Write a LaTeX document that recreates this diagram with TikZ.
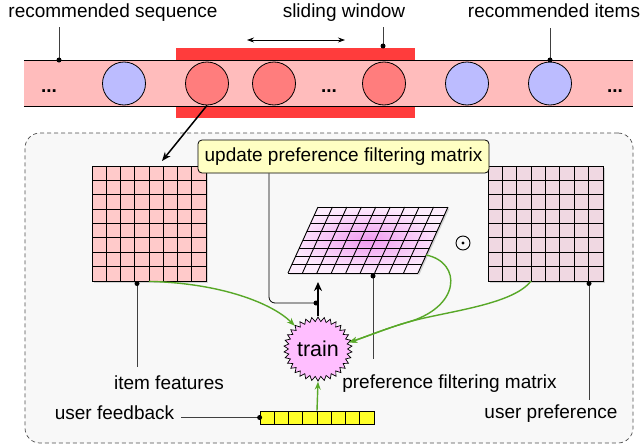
\documentclass[tikz,border=0pt]{standalone}
\usepackage{fontspec}
\setmainfont{Liberation Sans}
\usetikzlibrary{shapes.symbols,arrows.meta,shadows}
\definecolor{bandpink}{RGB}{255,188,188}
\definecolor{winred}{RGB}{255,60,60}
\definecolor{itred}{RGB}{255,125,125}
\definecolor{itblue}{RGB}{188,188,255}
\definecolor{impink}{RGB}{255,202,202}
\definecolor{upmauve}{RGB}{240,216,226}
\definecolor{updyellow}{RGB}{255,255,195}
\definecolor{trainpink}{RGB}{255,190,255}
\definecolor{fbyellow}{RGB}{255,255,40}
\definecolor{arrgreen}{RGB}{88,168,40}
\definecolor{boxbg}{RGB}{248,248,248}
\definecolor{pfmin}{RGB}{240,155,240}
\definecolor{pfmout}{RGB}{253,236,253}
\begin{document}
\begin{tikzpicture}[x=1pt,y=-1pt,
  txt/.style={font=\fontsize{19}{22}\selectfont, inner sep=0pt},
  itemdisc/.style={circle, draw=black, line width=0.8pt, minimum size=43pt, inner sep=0pt},
  matbox/.style={draw=black, line width=0.8pt, inner sep=0pt, drop shadow={shadow xshift=1.5pt, shadow yshift=-1.5pt, opacity=0.3}},
  gridline/.style={black, line width=0.9pt},
  pinline/.style={draw=black!75, line width=0.8pt},
  pindot/.style={circle, fill=black, inner sep=0pt, minimum size=5pt},
  garrow/.style={draw=arrgreen, line width=1.4pt, -{Stealth[length=8pt,width=6pt]}},
]
\useasboundingbox (0,0) rectangle (642,447);

% panel
\node[draw=black!70, dash pattern=on 4pt off 3pt, fill=boxbg, rounded corners=15pt,
      minimum width=608pt, minimum height=310pt, line width=0.7pt, inner sep=0pt] (panel) at (329,288) {};

% sequence band
\node[fill=winred, minimum width=239pt, minimum height=70pt, inner sep=0pt] (window) at (295.5,83) {};
\node[fill=bandpink, minimum width=609pt, minimum height=45pt, inner sep=0pt] (band) at (328.5,83.5) {};
\draw[line width=0.9pt] (band.north west) -- (band.north east) (band.south west) -- (band.south east);

\node[itemdisc, fill=itblue] (b1) at (124,83.5) {};
\node[itemdisc, fill=itred] (r1) at (207,83.5) {};
\node[itemdisc, fill=itred] (r2) at (274,83.5) {};
\node[itemdisc, fill=itred] (r3) at (384,83.5) {};
\node[itemdisc, fill=itblue] (b2) at (467,83.5) {};
\node[itemdisc, fill=itblue] (b3) at (550,83.5) {};
\node[txt, anchor=base] (d1) at (49,92) {\textbf{...}};
\node[txt, anchor=base] (d2) at (329,92) {\textbf{...}};
\node[txt, anchor=base] (d3) at (615,92) {\textbf{...}};

% top labels and pins
\node[txt, anchor=base] (lseq) at (113,17) {recommended sequence};
\node[txt, anchor=base] (lwin) at (344,17) {sliding window};
\node[txt, anchor=base] (litems) at (554,17) {recommended items};
\coordinate (seqtop) at (59,27);  \coordinate (seqpin) at (59,60);
\coordinate (wintop) at (383,27); \coordinate (winpin) at (383,46);
\coordinate (ittop) at (550,28);  \coordinate (itpin) at (550,60);
\draw[pinline] (seqtop) -- (seqpin); \node[pindot] at (seqpin) {};
\draw[pinline] (wintop) -- (winpin); \node[pindot] at (winpin) {};
\draw[pinline] (ittop) -- (itpin);   \node[pindot] at (itpin) {};
\coordinate (sl) at (247,40); \coordinate (sr) at (345,40);
\draw[line width=0.8pt, {Stealth[length=7pt,width=5pt]}-{Stealth[length=7pt,width=5pt]}] (sl) -- (sr);

% item features matrix
\node[matbox, fill=impink, minimum width=114pt, minimum height=115pt] (itemM) at (149,223.5) {};
\foreach \i in {1,...,7} {
  \draw[gridline] (92+\i*14.25,166) -- (92+\i*14.25,281);
  \draw[gridline] (92,166+\i*14.375) -- (206,166+\i*14.375);
}
\coordinate (imtip) at (162,161);
\draw[line width=1.5pt, -{Stealth[length=9pt,width=7pt]}] (r1.south) -- (imtip);

% user preference matrix
\node[matbox, fill=upmauve, minimum width=115pt, minimum height=115pt] (upM) at (545.5,223.5) {};
\foreach \i in {1,...,7} {
  \draw[gridline] (488+\i*14.375,166) -- (488+\i*14.375,281);
  \draw[gridline] (488,166+\i*14.375) -- (603,166+\i*14.375);
}

% preference filtering matrix (parallelogram)
\coordinate (pBL) at (288,273); \coordinate (pBR) at (418,273);
\coordinate (pTR) at (448,207); \coordinate (pTL) at (318,207);
\path[drop shadow={shadow xshift=1.5pt, shadow yshift=-1.5pt, opacity=0.3}, inner color=pfmin, outer color=pfmout, shade]
  (pBL) -- (pBR) -- (pTR) -- (pTL) -- cycle;
\foreach \i in {0,...,9} { \draw[gridline] (288+\i*14.4444,273) -- (318+\i*14.4444,207); }
\foreach \j in {0,...,8} { \draw[gridline] (288+3.75*\j,273-8.25*\j) -- (418+3.75*\j,273-8.25*\j); }
\node[circle, draw=black, line width=0.9pt, minimum size=14pt, inner sep=0pt] (odot) at (463,243) {};
\fill (odot.center) circle (1.6pt);

% update box
\node[txt, draw=black, fill=updyellow, rounded corners=4pt, minimum width=291pt, minimum height=33pt, line width=0.8pt] (upd) at (343.5,156.5) {update preference filtering matrix};

% train
\node[starburst, starburst points=34, starburst point height=4.5pt, random starburst=0, draw=black, fill=trainpink,
      line width=0.7pt, font=\fontsize{21.5}{24}\selectfont, inner sep=0pt, minimum width=67pt, minimum height=64pt] (train) at (318,349) {train};

% thick arrow and update line
\coordinate (pfmtip) at (318,282);
\draw[line width=2.5pt, -{Stealth[length=9pt,width=8pt]}] (train.north) -- (train.north |- pfmtip);
\coordinate (updx) at (269,0); \coordinate (upddot) at (316,303);
\draw[line width=0.8pt, rounded corners=6pt] (upd.south -| updx) |- (upddot);
\node[pindot] at (upddot) {};

% user feedback
\node[draw=black, fill=fbyellow, minimum width=114pt, minimum height=13pt, inner sep=0pt, line width=0.8pt] (ufb) at (317,417.5) {};
\foreach \i in {1,...,7} { \draw[gridline] (260+\i*14.25,411) -- (260+\i*14.25,424); }
\node[txt, anchor=base] (lfb) at (114.5,419) {user feedback};
\coordinate (fbstart) at (181,417.5);
\draw[pinline] (fbstart) -- (ufb.west);
\node[pindot] at (ufb.west) {};

% bottom labels and pins
\node[txt, anchor=base] (lif) at (169,389) {item features};
\node[txt, anchor=base] (lpf) at (449.5,388) {preference filtering matrix};
\node[txt, anchor=base] (lup) at (551,418) {user preference};
\coordinate (ifdot) at (137,283.5); \coordinate (ifend) at (137,367);
\coordinate (pfdot) at (373,276);   \coordinate (pfend) at (373,359);
\coordinate (updot) at (589,283.5); \coordinate (upend) at (589,400);
\draw[pinline] (ifdot) -- (ifend); \node[pindot] at (ifdot) {};
\draw[pinline] (pfdot) -- (pfend); \node[pindot] at (pfdot) {};
\draw[pinline] (updot) -- (upend); \node[pindot] at (updot) {};

% green arrows
\coordinate (pfR) at (426,255);
\coordinate (upS) at (531,281);
\coordinate (gm) at (405,323);
\draw[garrow] (itemM.south) .. controls (220,283) and (272,303) .. (train.135);
\draw[garrow] (pfR) .. controls (462,262) and (462,308) .. (gm) .. controls (385,329) and (368,336) .. (train.12);
\draw[garrow] (upS) .. controls (512,306) and (440,312) .. (gm) .. controls (385,329) and (368,336) .. (train.12);
\draw[garrow] (ufb.north) -- (train.south);
\end{tikzpicture}
\end{document}
